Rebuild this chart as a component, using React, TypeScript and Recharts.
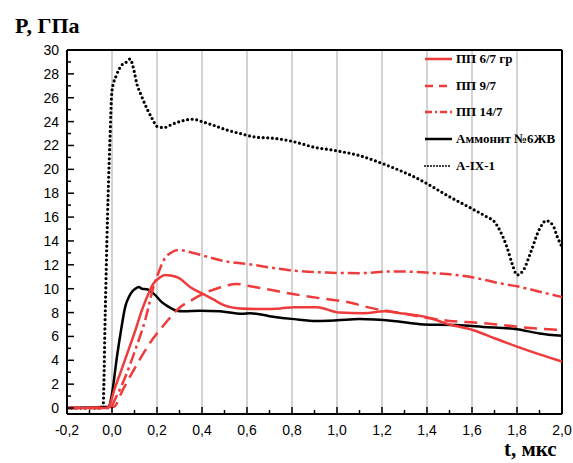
import { LineChart, Line, XAxis, YAxis, ReferenceLine, Legend } from 'recharts';

// time axis, microseconds
const xTicks = [-0.2, -0.1, 0, 0.1, 0.2, 0.3, 0.4, 0.5, 0.6, 0.7, 0.8, 0.9, 1.0, 1.1, 1.2, 1.3, 1.4, 1.5, 1.6, 1.7, 1.8, 1.9, 2.0];
const yTicks = [0, 1, 2, 3, 4, 5, 6, 7, 8, 9, 10, 11, 12, 13, 14, 15, 16, 17, 18, 19, 20, 21, 22, 23, 24, 25, 26, 27, 28, 29, 30];
const gridX = [0, 0.2, 0.4, 0.6, 0.8, 1.0, 1.2, 1.4, 1.6, 1.8];

// ПП 6/7 гр
const tPP6 = [-0.2, -0.02, 0.015, 0.044, 0.074, 0.1, 0.133, 0.16, 0.185, 0.21, 0.235, 0.26, 0.296, 0.35, 0.4, 0.45, 0.5, 0.57, 0.66, 0.75, 0.81, 0.91, 1.01, 1.12, 1.21, 1.28, 1.4, 1.5, 1.61, 1.7, 1.8, 1.9, 2.0];
const pPP6 = [0, 0, 1.8, 3.3, 4.9, 6.3, 8.2, 9.5, 10.45, 10.9, 11.15, 11.1, 10.9, 10.1, 9.6, 9.1, 8.6, 8.35, 8.3, 8.35, 8.45, 8.45, 8.0, 7.95, 8.1, 7.95, 7.6, 7.0, 6.5, 5.85, 5.15, 4.5, 3.9];

// ПП 9/7
const tPP9 = [-0.2, 0.007, 0.05, 0.1, 0.14, 0.178, 0.215, 0.25, 0.3, 0.36, 0.42, 0.48, 0.555, 0.615, 0.69, 0.79, 0.925, 1.04, 1.16, 1.27, 1.385, 1.5, 1.62, 1.74, 1.86, 2.0];
const pPP9 = [0, 0.1, 1.6, 3.3, 4.6, 5.7, 6.6, 7.4, 8.4, 9.1, 9.7, 10.1, 10.4, 10.2, 9.95, 9.6, 9.2, 8.9, 8.35, 8.0, 7.6, 7.3, 7.15, 6.95, 6.7, 6.55];

// ПП 14/7
const tPP14 = [-0.2, -0.01, 0.02, 0.059, 0.104, 0.148, 0.185, 0.21, 0.23, 0.26, 0.296, 0.34, 0.4, 0.5, 0.6, 0.79, 0.955, 1.1, 1.25, 1.355, 1.5, 1.59, 1.71, 1.8, 1.9, 2.0];
const pPP14 = [0, 0, 1.0, 2.6, 4.9, 7.4, 10.2, 11.5, 12.4, 13.0, 13.25, 13.1, 12.8, 12.3, 12.07, 11.55, 11.35, 11.3, 11.45, 11.4, 11.2, 11.0, 10.5, 10.2, 9.75, 9.3];

// Аммонит №6ЖВ
const tAmm = [-0.2, -0.015, 0.0, 0.022, 0.04, 0.059, 0.075, 0.089, 0.104, 0.118, 0.133, 0.155, 0.19, 0.22, 0.25, 0.28, 0.32, 0.39, 0.48, 0.578, 0.615, 0.7, 0.81, 0.91, 1.0, 1.1, 1.25, 1.385, 1.53, 1.65, 1.8, 1.9, 2.0];
const pAmm = [0, 0.1, 1.2, 4.3, 6.5, 8.5, 9.3, 9.75, 10.0, 10.15, 10.0, 9.95, 9.5, 8.9, 8.5, 8.2, 8.1, 8.15, 8.1, 7.9, 7.95, 7.7, 7.45, 7.3, 7.35, 7.45, 7.3, 7.0, 6.95, 6.8, 6.6, 6.25, 6.05];

// А-IX-1
const tAIX = [-0.2, -0.04, -0.03, -0.02, -0.01, 0.0, 0.02, 0.044, 0.065, 0.08, 0.095, 0.11, 0.13, 0.155, 0.18, 0.2, 0.23, 0.27, 0.32, 0.36, 0.4, 0.45, 0.51, 0.57, 0.64, 0.72, 0.8, 0.9, 1.0, 1.1, 1.2, 1.28, 1.34, 1.4, 1.5, 1.6, 1.667, 1.7, 1.726, 1.755, 1.78, 1.8, 1.83, 1.86, 1.9, 1.93, 1.96, 1.98, 2.0];
const pAIX = [0, 0, 8, 16, 22, 26.6, 27.9, 28.75, 29.0, 29.25, 28.5, 27.2, 26.2, 25.1, 24.2, 23.6, 23.5, 23.8, 24.1, 24.2, 24.0, 23.7, 23.3, 23.0, 22.7, 22.6, 22.35, 21.85, 21.55, 21.15, 20.5, 19.9, 19.4, 18.8, 17.7, 16.7, 16.0, 15.6, 14.8, 13.5, 12.0, 11.15, 11.6, 13.0, 15.0, 15.7, 15.3, 14.3, 13.5];

const zip = (t: number[], p: number[]) => t.map((x, i) => ({ t: x, p: p[i] }));

const RED = '#ef3b3b';

const series = [
  { name: 'А-IX-1', data: zip(tAIX, pAIX), color: '#000', dash: '0 4.6', width: 3.2, cap: 'round' },
  { name: 'Аммонит №6ЖВ', data: zip(tAmm, pAmm), color: '#000', dash: undefined, width: 2.5, cap: 'butt' },
  { name: 'ПП 9/7', data: zip(tPP9, pPP9), color: RED, dash: '13 7', width: 2.5, cap: 'butt' },
  { name: 'ПП 14/7', data: zip(tPP14, pPP14), color: RED, dash: '12 4 3 4', width: 2.5, cap: 'butt' },
  { name: 'ПП 6/7 гр', data: zip(tPP6, pPP6), color: RED, dash: undefined, width: 2.5, cap: 'butt' },
];

const legendOrder = ['ПП 6/7 гр', 'ПП 9/7', 'ПП 14/7', 'Аммонит №6ЖВ', 'А-IX-1'];

const fmt = (v: number) => v.toFixed(1).replace('.', ',');
const sans = '"Liberation Sans", Arial, sans-serif';
const serif = '"Liberation Serif", "Times New Roman", serif';

const XTick = (props: any) => {
  const { x, y, payload } = props;
  const v = payload.value;
  const major = Math.round(v * 10) % 2 === 0;
  return (
    <g>
      <line x1={x} x2={x} y1={y} y2={y - (major ? 7 : 4)} stroke="#000" strokeWidth={1.5} />
      {major && (
        <text x={x} y={y + 21} textAnchor="middle" fontSize={14} fontFamily={sans} fill="#000">
          {fmt(v)}
        </text>
      )}
    </g>
  );
};

const YTick = (props: any) => {
  const { x, y, payload } = props;
  const v = payload.value;
  const major = v % 2 === 0;
  return (
    <g>
      <line x1={x} x2={x + (major ? 7 : 4)} y1={y} y2={y} stroke="#000" strokeWidth={1.5} />
      {major && (
        <text x={x - 8} y={y + 5} textAnchor="end" fontSize={14} fontFamily={sans} fill="#000">
          {v}
        </text>
      )}
    </g>
  );
};

const LegendBox = () => (
  <div>
    {legendOrder.map((n) => {
      const s = series.find((d) => d.name === n)!;
      return (
        <div key={n} style={{ display: 'flex', alignItems: 'center', height: 26.6 }}>
          <svg width={30} height={10}>
            <line x1={3} x2={30} y1={5} y2={5} stroke={s.color} strokeWidth={s.cap === 'round' ? 2 : s.width}
              strokeDasharray={s.dash ? (s.cap === 'round' ? '0 3' : s.dash === '13 7' ? '8 6' : '7 3 2 3') : undefined}
              strokeLinecap={s.cap as any} />
          </svg>
          <span style={{ marginLeft: 4, fontFamily: serif, fontWeight: 'bold', fontSize: 13, color: '#000', whiteSpace: 'nowrap' }}>{n}</span>
        </div>
      );
    })}
  </div>
);

export default function App() {
  return (
    <div style={{ position: 'absolute', left: 0, top: 0, width: 573, height: 463, background: '#fff' }}>
      <LineChart width={573} height={463} margin={{ top: 50, right: 11, bottom: 9, left: 7 }}>
        <XAxis
          type="number"
          dataKey="t"
          domain={[-0.2, 2.0]}
          ticks={xTicks}
          interval={0}
          allowDataOverflow
          height={40}
          tickSize={0}
          tickMargin={0}
          tickLine={false}
          tick={<XTick />}
          axisLine={{ stroke: '#000', strokeWidth: 2 }}
        />
        <YAxis
          type="number"
          dataKey="p"
          domain={[-0.5, 30]}
          ticks={yTicks}
          interval={0}
          allowDataOverflow
          width={60}
          tickSize={0}
          tickMargin={0}
          tickLine={false}
          tick={<YTick />}
          axisLine={{ stroke: '#000', strokeWidth: 2 }}
        />
        {gridX.map((g) => (
          <ReferenceLine key={g} x={g} stroke="#a8a8a8" strokeWidth={1} />
        ))}
        <ReferenceLine y={30} stroke="#000" strokeWidth={2} />
        <ReferenceLine x={2} stroke="#000" strokeWidth={2} />
        {series.map((s) => (
          <Line
            key={s.name}
            data={s.data}
            dataKey="p"
            name={s.name}
            type="monotone"
            stroke={s.color}
            strokeWidth={s.width}
            strokeDasharray={s.dash}
            strokeLinecap={s.cap as any}
            dot={false}
            activeDot={false}
            isAnimationActive={false}
          />
        ))}
        <Legend
          layout="vertical"
          align="center"
          verticalAlign="middle"
          content={<LegendBox />}
          wrapperStyle={{ position: 'absolute', left: 422, top: 46, width: 150 }}
        />
      </LineChart>
      <div style={{ position: 'absolute', left: 15, top: 14.6, fontFamily: serif, fontWeight: 'bold', fontSize: 22, lineHeight: 1, color: '#000' }}>
        P, ГПа
      </div>
      <div style={{ position: 'absolute', left: 504, top: 439, fontFamily: serif, fontWeight: 'bold', fontSize: 21, lineHeight: 1, color: '#000' }}>
        t, мкс
      </div>
    </div>
  );
}
